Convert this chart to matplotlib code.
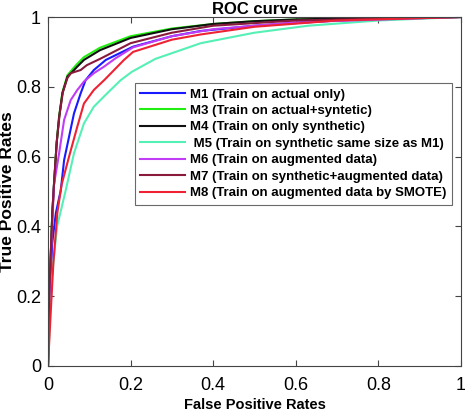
import matplotlib.pyplot as plt

# ROC points (FPR, TPR)
m1_x = [0, 0.003, 0.01, 0.019, 0.031, 0.039, 0.051, 0.063, 0.079, 0.091, 0.111, 0.14, 0.206, 0.3, 0.37, 0.5, 0.7, 1]
m1_y = [0, 0.15, 0.35, 0.438, 0.504, 0.59, 0.657, 0.724, 0.781, 0.819, 0.848, 0.877, 0.915, 0.945, 0.96, 0.975, 0.99, 1]

m3_x = [0, 0.003, 0.0105, 0.0145, 0.021, 0.027, 0.035, 0.047, 0.059, 0.071, 0.087, 0.126, 0.2, 0.3, 0.4, 0.5, 0.6, 0.8, 1]
m3_y = [0, 0.2, 0.44, 0.52, 0.64, 0.716, 0.785, 0.833, 0.85, 0.866, 0.885, 0.912, 0.945, 0.967, 0.98, 0.988, 0.993, 0.998, 1]

m4_x = [0, 0.003, 0.0105, 0.0145, 0.021, 0.027, 0.035, 0.047, 0.059, 0.071, 0.087, 0.126, 0.2, 0.3, 0.4, 0.5, 0.6, 0.8, 1]
m4_y = [0, 0.2, 0.44, 0.52, 0.639, 0.714, 0.782, 0.829, 0.843, 0.858, 0.877, 0.905, 0.94, 0.965, 0.98, 0.988, 0.993, 0.998, 1]

m5_x = [0, 0.004, 0.01, 0.022, 0.043, 0.063, 0.087, 0.111, 0.143, 0.176, 0.203, 0.26, 0.37, 0.5, 0.63, 0.8, 1]
m5_y = [0, 0.12, 0.26, 0.4, 0.504, 0.61, 0.695, 0.743, 0.781, 0.819, 0.843, 0.88, 0.925, 0.955, 0.975, 0.99, 1]

m6_x = [0, 0.0024, 0.0065, 0.0145, 0.027, 0.039, 0.055, 0.071, 0.087, 0.111, 0.136, 0.164, 0.206, 0.3, 0.4, 0.6, 1]
m6_y = [0, 0.15, 0.295, 0.52, 0.61, 0.705, 0.762, 0.791, 0.815, 0.839, 0.858, 0.882, 0.913, 0.945, 0.965, 0.985, 1]

m7_x = [0, 0.003, 0.0105, 0.0145, 0.021, 0.028, 0.036, 0.047, 0.055, 0.079, 0.094, 0.126, 0.2, 0.3, 0.4, 0.6, 1]
m7_y = [0, 0.2, 0.44, 0.52, 0.64, 0.72, 0.785, 0.825, 0.839, 0.848, 0.862, 0.88, 0.925, 0.955, 0.975, 0.99, 1]

m8_x = [0, 0.0065, 0.013, 0.0225, 0.033, 0.051, 0.071, 0.087, 0.111, 0.136, 0.16, 0.184, 0.206, 0.3, 0.37, 0.5, 0.7, 1]
m8_y = [0, 0.152, 0.295, 0.438, 0.52, 0.6, 0.686, 0.752, 0.791, 0.819, 0.848, 0.877, 0.9, 0.935, 0.95, 0.972, 0.99, 1]

labels = ['M1 (Train on actual only)',
          'M3 (Train on actual+syntetic)',
          'M4 (Train on only synthetic)',
          ' M5 (Train on synthetic same size as M1)',
          'M6 (Train on augmented data)',
          'M7 (Train on synthetic+augmented data)',
          'M8 (Train on augmented data by SMOTE)']

ticks = [0, 0.2, 0.4, 0.6, 0.8, 1]
tick_labels = ['0', '0.2', '0.4', '0.6', '0.8', '1']

plt.rcParams['font.family'] = ['Liberation Sans', 'DejaVu Sans']

fig = plt.figure(figsize=(4.65, 4.12), dpi=100)
ax = fig.add_axes([48 / 465, 46 / 412, 413 / 465, 349 / 412])

curves = [(m1_x, m1_y, '#1a1aff'),
          (m3_x, m3_y, '#22ee11'),
          (m4_x, m4_y, '#111111'),
          (m5_x, m5_y, '#55f0b5'),
          (m6_x, m6_y, '#c03cf5'),
          (m7_x, m7_y, '#8a1a3c'),
          (m8_x, m8_y, '#ee2233')]

for (xs, ys, c), lab in zip(curves, labels):
    ax.plot(xs, ys, color=c, linewidth=1.5, label=lab)

ax.set_xlim(0, 1)
ax.set_ylim(0, 1)
ax.set_xticks(ticks)
ax.set_xticklabels(tick_labels)
ax.set_yticks(ticks)
ax.set_yticklabels(tick_labels)
ax.tick_params(direction='in', top=True, right=True, length=4, labelsize=13,
               color='#444444', pad=5)
ax.tick_params(axis='x', pad=8)
for s in ax.spines.values():
    s.set_color('#444444')
    s.set_linewidth(0.8)

ax.set_title('ROC curve', fontsize=12, fontweight='bold', pad=2)
ax.set_xlabel('False Positive Rates', fontsize=10.5, fontweight='bold', labelpad=3)
ax.set_ylabel('True Positive Rates', fontsize=12.5, fontweight='bold', labelpad=1)

leg = ax.legend(loc='upper left', bbox_to_anchor=(87 / 413, (366 - 83) / 349),
                prop={'weight': 'bold', 'size': 9.5}, frameon=True, fancybox=False,
                handlelength=3.4, handletextpad=0.4, labelspacing=0.32,
                borderpad=0.4, borderaxespad=0)
leg.get_frame().set_edgecolor('#444444')
leg.get_frame().set_linewidth(0.8)

fig.savefig('out.png', dpi=100)
